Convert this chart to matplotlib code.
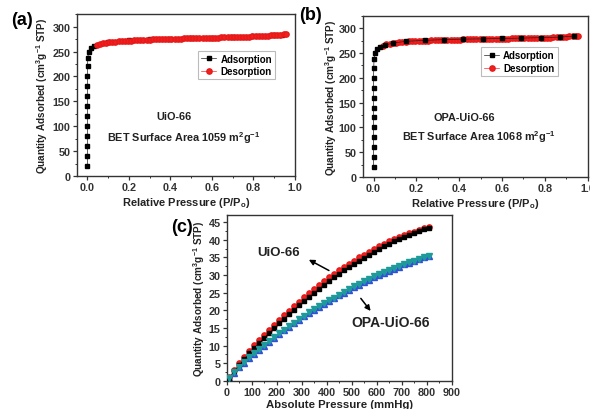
import matplotlib
matplotlib.use("Agg")
import matplotlib.pyplot as plt
from matplotlib.ticker import MultipleLocator

plt.rcParams['font.family'] = ['Liberation Sans', 'DejaVu Sans']
plt.rcParams['font.weight'] = 'bold'
plt.rcParams['axes.labelweight'] = 'bold'
plt.rcParams['mathtext.fontset'] = 'custom'
plt.rcParams['mathtext.rm'] = 'Liberation Sans:bold'
plt.rcParams['mathtext.bf'] = 'Liberation Sans:bold'
plt.rcParams['mathtext.default'] = 'bf'

# (a) UiO-66 N2 isotherm
ads_a_p = [0.0, 0.0, 0.0, 0.0, 0.0, 0.0, 0.0, 0.0, 0.0, 0.0, 0.001, 0.002, 0.006, 0.018, 0.030,
           0.10, 0.20, 0.30, 0.40, 0.50, 0.60, 0.70, 0.80, 0.90, 0.935]
ads_a_q = [20, 40, 60, 80, 100, 120, 140, 160, 180, 200, 220, 237, 250, 257, 261,
           269, 272.5, 274.5, 276, 277, 278, 279, 280.5, 282.5, 283.5]

des_p = [0.045, 0.06, 0.075, 0.09, 0.105, 0.12, 0.135, 0.15, 0.165, 0.18, 0.195, 0.21,
         0.225, 0.24, 0.255, 0.27, 0.285, 0.30, 0.315, 0.33, 0.345, 0.36, 0.375, 0.39,
         0.405, 0.42, 0.435, 0.45, 0.465, 0.48, 0.495, 0.51, 0.525, 0.54, 0.555, 0.57,
         0.585, 0.60, 0.615, 0.63, 0.645, 0.66, 0.675, 0.69, 0.705, 0.72, 0.735, 0.75,
         0.765, 0.78, 0.795, 0.81, 0.825, 0.84, 0.855, 0.87, 0.885, 0.90, 0.915, 0.93,
         0.945, 0.955]
des_a_q = [264, 265.8, 266.9, 267.8, 268.6, 269.3, 269.9, 270.4, 270.9, 271.3, 271.7, 272.1,
           272.5, 272.8, 273.1, 273.4, 273.7, 274.0, 274.3, 274.5, 274.7, 274.9, 275.1, 275.3,
           275.5, 275.7, 275.9, 276.1, 276.2, 276.4, 276.6, 276.7, 276.9, 277.1, 277.2, 277.4,
           277.6, 277.7, 277.9, 278.1, 278.2, 278.4, 278.6, 278.8, 279.0, 279.2, 279.4, 279.6,
           279.8, 280.0, 280.3, 280.6, 280.9, 281.2, 281.6, 282.0, 282.5, 283.0, 283.6, 284.2,
           284.8, 285.3]

# (b) OPA-UiO-66 N2 isotherm
ads_b_p = [0.0, 0.0, 0.0, 0.0, 0.0, 0.0, 0.0, 0.0, 0.0, 0.0, 0.001, 0.002, 0.006, 0.017, 0.030,
           0.055, 0.09, 0.15, 0.24, 0.33, 0.42, 0.51, 0.60, 0.69, 0.78, 0.87, 0.935]
ads_b_q = [20, 40, 60, 80, 100, 120, 140, 160, 180, 200, 220, 237, 250, 258, 262,
           266, 270, 273.5, 275.5, 277, 278, 278.5, 279.3, 280, 281, 282, 284]
des_b_q = [265, 267.5, 269.0, 270.0, 270.9, 271.6, 272.2, 272.7, 273.2, 273.6, 274.0, 274.3,
           274.6, 274.9, 275.2, 275.4, 275.7, 275.9, 276.1, 276.3, 276.5, 276.7, 276.9, 277.0,
           277.2, 277.3, 277.5, 277.6, 277.8, 277.9, 278.0, 278.2, 278.3, 278.4, 278.5, 278.7,
           278.8, 278.9, 279.0, 279.2, 279.3, 279.4, 279.6, 279.7, 279.8, 280.0, 280.1, 280.3,
           280.4, 280.6, 280.8, 281.0, 281.2, 281.4, 281.7, 282.0, 282.4, 282.8, 283.3, 283.8,
           284.4, 285.0]

# (c) CO2 isotherms
pressure = [10, 30, 50, 70, 90, 110, 130, 150, 170, 190, 210, 230, 250, 270, 290, 310, 330,
            350, 370, 390, 410, 430, 450, 470, 490, 510, 530, 550, 570, 590, 610, 630, 650,
            670, 690, 710, 730, 750, 770, 790, 810]
uio_ads = [0.9, 2.7, 4.5, 6.2, 7.8, 9.3, 10.8, 12.2, 13.6, 14.9, 16.3, 17.6, 18.9, 20.2,
           21.4, 22.6, 23.8, 24.9, 26.1, 27.2, 28.3, 29.3, 30.3, 31.3, 32.3, 33.2, 34.1,
           34.9, 35.8, 36.6, 37.3, 38.1, 38.8, 39.5, 40.1, 40.7, 41.3, 41.9, 42.4, 42.9, 43.3]
uio_des = [1.0, 3.1, 5.0, 6.9, 8.6, 10.2, 11.7, 13.1, 14.5, 15.9, 17.3, 18.6, 19.9, 21.2,
           22.5, 23.7, 24.9, 26.0, 27.1, 28.2, 29.3, 30.3, 31.3, 32.3, 33.2, 34.1, 35.0,
           35.8, 36.6, 37.4, 38.1, 38.8, 39.5, 40.1, 40.7, 41.3, 41.8, 42.3, 42.8, 43.2, 43.6]
opa_ads = [0.8, 2.4, 3.9, 5.2, 6.5, 7.6, 8.8, 9.9, 11.0, 12.2, 13.3, 14.3, 15.3, 16.3,
           17.3, 18.3, 19.2, 20.1, 21.0, 21.8, 22.6, 23.4, 24.2, 25.0, 25.8, 26.6, 27.3,
           28.0, 28.7, 29.4, 30.0, 30.6, 31.2, 31.8, 32.4, 33.0, 33.5, 34.0, 34.5, 35.0, 35.4]
opa_des = [0.9, 2.5, 4.0, 5.4, 6.7, 7.8, 9.0, 10.1, 11.2, 12.4, 13.5, 14.5, 15.5, 16.5,
           17.5, 18.5, 19.4, 20.3, 21.2, 22.0, 22.8, 23.6, 24.4, 25.2, 26.0, 26.8, 27.5,
           28.2, 28.9, 29.6, 30.2, 30.8, 31.4, 32.0, 32.6, 33.1, 33.6, 34.1, 34.6, 35.1, 35.5]

ylab = "Quantity Adsorbed (cm$^3$g$^{-1}$ STP)"
fs = 7.8
txtc = '#222222'

fig = plt.figure(figsize=(5.9, 4.1), dpi=100)


def style(ax, xmaj, xmin_, ymaj, ymin_):
    ax.xaxis.set_major_locator(MultipleLocator(xmaj))
    ax.xaxis.set_minor_locator(MultipleLocator(xmin_))
    ax.yaxis.set_major_locator(MultipleLocator(ymaj))
    ax.yaxis.set_minor_locator(MultipleLocator(ymin_))
    ax.tick_params(which='major', direction='out', length=3, width=0.9, labelsize=fs,
                   pad=1.5, colors='#333333')
    ax.tick_params(which='minor', direction='out', length=1.5, width=0.7, colors='#333333')
    for lab in ax.get_xticklabels() + ax.get_yticklabels():
        lab.set_fontweight('bold')
    for s in ax.spines.values():
        s.set_linewidth(1.0)
        s.set_color('#333333')


def isotherm(ax, ap, aq, dp, dq, black_top, ypad):
    za, zd = (3, 2) if black_top else (2, 3)
    ax.plot(ap, aq, '-s', color='#222222', lw=0.5, ms=3.4, mec='black', mfc='black',
            label='Adsorption', zorder=za)
    ax.plot(dp, dq, '-o', color='#ff3030', lw=0.5, ms=3.8, mec='#e81818', mfc='#f02020',
            label='Desorption', zorder=zd)
    ax.set_xlim(-0.05, 1.0)
    ax.set_ylim(0, 325)
    style(ax, 0.2, 0.1, 50, 25)
    ax.set_xlabel("Relative Pressure (P/P$_o$)", fontsize=8, fontweight='bold', labelpad=2,
                  color=txtc)
    ax.set_ylabel(ylab, fontsize=7.2, fontweight='bold', labelpad=ypad, color=txtc)


def add_legend(ax, anchor):
    leg = ax.legend(loc='upper left', bbox_to_anchor=anchor, frameon=True,
                    fancybox=False, edgecolor='#aaaaaa', handlelength=1.6,
                    handletextpad=0.4, borderpad=0.3, labelspacing=0.3, borderaxespad=0,
                    prop={'weight': 'bold', 'size': 7})
    leg.get_frame().set_linewidth(0.8)


# (a)
ax1 = fig.add_axes([0.1305, 0.568, 0.3695, 0.395])
isotherm(ax1, ads_a_p, ads_a_q, des_p, des_a_q, False, 2)
add_legend(ax1, (0.555, 0.775))
ax1.text(0.445, 0.37, "UiO-66", transform=ax1.transAxes, ha='center', va='center',
         fontsize=fs, fontweight='bold', color=txtc)
ax1.text(0.49, 0.24, "BET Surface Area 1059 m$^2$g$^{-1}$", transform=ax1.transAxes,
         ha='center', va='center', fontsize=fs, fontweight='bold', color=txtc)

# (b)
ax2 = fig.add_axes([0.615, 0.566, 0.381, 0.393])
isotherm(ax2, ads_b_p, ads_b_q, des_p, des_b_q, True, 0)
add_legend(ax2, (0.525, 0.805))
ax2.text(0.453, 0.373, "OPA-UiO-66", transform=ax2.transAxes, ha='center', va='center',
         fontsize=fs, fontweight='bold', color=txtc)
ax2.text(0.516, 0.255, "BET Surface Area 1068 m$^2$g$^{-1}$", transform=ax2.transAxes,
         ha='center', va='center', fontsize=fs, fontweight='bold', color=txtc)

# (c)
ax3 = fig.add_axes([0.3847, 0.0683, 0.381, 0.405])
ax3.plot(pressure, uio_ads, '-s', color='black', lw=0.5, ms=3.4, zorder=3)
ax3.plot(pressure, uio_des, '-o', color='#f02020', lw=0.5, ms=3.8, mec='#e81818', zorder=2)
ax3.plot(pressure, opa_ads, '-^', color='#3050d8', lw=0.5, ms=3.8, zorder=2)
ax3.plot(pressure, opa_des, '-v', color='#1f9a9a', lw=0.5, ms=3.8, zorder=3)
ax3.set_xlim(0, 900)
ax3.set_ylim(0, 47)
style(ax3, 100, 50, 5, 2.5)
ax3.set_xlabel("Absolute Pressure (mmHg)", fontsize=8.2, fontweight='bold', labelpad=1,
               color=txtc)
ax3.set_ylabel(ylab, fontsize=7.2, fontweight='bold', labelpad=1, color=txtc)
ax3.annotate("", xy=(318, 34.7), xytext=(418, 30.9),
             arrowprops=dict(arrowstyle='-|>', color='black', lw=1.1, mutation_scale=8))
ax3.text(207, 36.4, "UiO-66", ha='center', va='center', fontsize=9.5, fontweight='bold',
         color=txtc)
ax3.annotate("", xy=(582, 19.2), xytext=(529, 24.0),
             arrowprops=dict(arrowstyle='-|>', color='black', lw=1.1, mutation_scale=8))
ax3.text(655, 16.8, "OPA-UiO-66", ha='center', va='center', fontsize=10, fontweight='bold',
         color=txtc)

fig.text(0.037, 0.949, "(a)", fontsize=13, fontweight='bold', ha='center', va='center')
fig.text(0.527, 0.962, "(b)", fontsize=13, fontweight='bold', ha='center', va='center')
fig.text(0.308, 0.444, "(c)", fontsize=13, fontweight='bold', ha='center', va='center')

fig.savefig("out.png", dpi=100)
